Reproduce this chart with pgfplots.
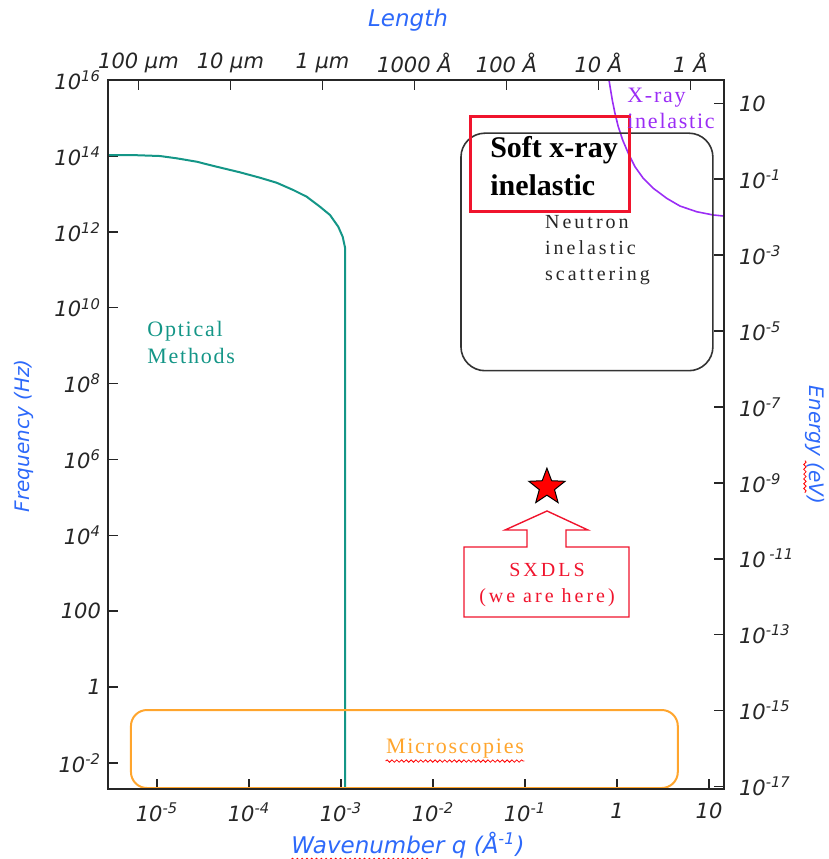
\documentclass[border=0pt]{standalone}
\usepackage{fontspec}
\setmainfont{Liberation Serif}
\setsansfont{DejaVu Sans}
\newfontfamily\annA[LetterSpace=8]{Liberation Serif}
\newfontfamily\annB[LetterSpace=15]{Liberation Serif}
\usepackage{pgfplots}
\pgfplotsset{compat=1.18}
\usetikzlibrary{decorations.pathmorphing,calc}

\definecolor{teal2}{RGB}{20,150,135}
\definecolor{xpurple}{RGB}{155,45,245}
\definecolor{lblue}{RGB}{45,105,250}
\definecolor{orng}{RGB}{255,165,45}
\definecolor{xred}{RGB}{240,20,45}

\pgfdeclareplotmark{fstar}{%
  \pgfpathmoveto{\pgfpointpolar{90}{9.5pt}}%
  \pgfpathlineto{\pgfpointpolar{126}{4pt}}%
  \pgfpathlineto{\pgfpointpolar{162}{9.5pt}}%
  \pgfpathlineto{\pgfpointpolar{198}{4pt}}%
  \pgfpathlineto{\pgfpointpolar{234}{9.5pt}}%
  \pgfpathlineto{\pgfpointpolar{270}{4pt}}%
  \pgfpathlineto{\pgfpointpolar{306}{9.5pt}}%
  \pgfpathlineto{\pgfpointpolar{342}{4pt}}%
  \pgfpathlineto{\pgfpointpolar{18}{9.5pt}}%
  \pgfpathlineto{\pgfpointpolar{54}{4pt}}%
  \pgfpathclose
  \pgfusepathqfillstroke}

\tikzset{wavyline/.style={red,line width=0.4pt,decorate,decoration={snake,amplitude=0.6pt,segment length=2.4pt}}}

\begin{document}
\begin{tikzpicture}
\useasboundingbox (-54pt,-35pt) rectangle (360.5pt,394.5pt);
\begin{axis}[
  at={(0pt,0pt)}, anchor=south west,
  scale only axis, width=308pt, height=354.5pt,
  xmode=log, ymode=log,
  xmin=2.93e-6, xmax=14.55, ymin=2.07e-3, ymax=1e16,
  xminorticks=false, yminorticks=false,
  tick align=inside,
  major tick length=5pt,
  axis line style={line width=1pt, black!85},
  tick style={black!85, line width=0.8pt},
  ticklabel style={font=\sffamily\itshape\fontsize{10.5}{12}\selectfont, text=black!85},
  xticklabel style={yshift=-3.5pt},
  xtick={1e-5,1e-4,1e-3,1e-2,1e-1,1,10},
  xticklabels={10\textsuperscript{-5},10\textsuperscript{-4},10\textsuperscript{-3},10\textsuperscript{-2},10\textsuperscript{-1},1,10},
  ytick={1e-2,1,1e2,1e4,1e6,1e8,1e10,1e12,1e14,1e16},
  yticklabels={10\textsuperscript{-2},1,100,10\textsuperscript{4},10\textsuperscript{6},10\textsuperscript{8},10\textsuperscript{10},10\textsuperscript{12},10\textsuperscript{14},10\textsuperscript{16}},
  xtick pos=left, ytick pos=left,
  clip=false,
]
% Optical methods boundary
\addplot[teal2, line width=1pt, line join=round] coordinates {
  (2.93e-6,1.05e14) (5.52e-6,1.05e14) (1.076e-5,9.93e13) (1.64e-5,8.63e13)
  (2.70e-5,7.03e13) (4.45e-5,5.19e13) (7.98e-5,3.69e13) (1.315e-4,2.66e13)
  (2.0e-4,1.96e13) (3.03e-4,1.26e13) (4.24e-4,8.39e12) (5.90e-4,4.58e12)
  (7.59e-4,2.77e12) (9.33e-4,1.36e12) (1.042e-3,7.41e11) (1.11e-3,3.66e11)
  (1.11e-3,2.07e-3)
};
% X-ray inelastic boundary
\addplot[xpurple, line width=0.8pt, line join=round] coordinates {
  (0.818,1e16) (0.888,2.97e15) (0.950,1.325e15) (1.032,5.87e14) (1.152,2.62e14)
  (1.326,1.17e14) (1.567,5.19e13) (1.93,2.56e13) (2.48,1.40e13) (3.47,7.62e12)
  (4.83,4.78e12) (7.34,3.38e12) (11.13,2.77e12) (14.55,2.6e12)
};
% SXDLS star
\addplot[only marks, mark=fstar, mark options={draw=black, fill=red, line width=0.5pt}] coordinates {(0.173,1.86e5)};

% Neutron box
\draw[black!80, line width=0.8pt, rounded corners=12pt] (rel axis cs:0.573,0.590) rectangle (rel axis cs:0.982,0.925);
% Microscopies box
\draw[orng, line width=1pt, rounded corners=8pt] (rel axis cs:0.0373,0.0014) rectangle (rel axis cs:0.925,0.1114);
% Soft x-ray rectangle
\draw[xred, line width=1.4pt] (rel axis cs:0.588,0.814) rectangle (rel axis cs:0.847,0.949);
% Callout arrow
\draw[xred, line width=0.7pt] (rel axis cs:0.7127,0.3921) -- (rel axis cs:0.7792,0.3653) -- (rel axis cs:0.7435,0.3653) -- (rel axis cs:0.7435,0.3413) -- (rel axis cs:0.8458,0.3413) -- (rel axis cs:0.8458,0.2426) -- (rel axis cs:0.5779,0.2426) -- (rel axis cs:0.5779,0.3413) -- (rel axis cs:0.6802,0.3413) -- (rel axis cs:0.6802,0.3653) -- (rel axis cs:0.6445,0.3653) -- cycle;

% Texts
\node[anchor=west, align=left, inner sep=0pt, text=teal2, font=\annA\fontsize{11}{13.5}\selectfont] at (rel axis cs:0.0633,0.6305) {Optical\\Methods};
\node[anchor=west, align=left, inner sep=0pt, text=black!85, font=\annB\fontsize{10}{13}\selectfont] at (rel axis cs:0.709,0.760) {Neutron\\inelastic\\scattering};
\node[anchor=west, align=left, inner sep=0pt, font=\bfseries\fontsize{15}{19}\selectfont] at (rel axis cs:0.620,0.879) {Soft x-ray\\inelastic};
\node[anchor=west, align=left, inner sep=0pt, text=xpurple, font=\annA\fontsize{11}{13}\selectfont] at (rel axis cs:0.8425,0.9605) {X-ray\\inelastic};
\node[align=center, inner sep=0pt, text=xred, font=\annB\fontsize{10}{13}\selectfont] at (rel axis cs:0.7127,0.2877) {SXDLS\\(we are here)};
\node[inner sep=0pt, text=orng, font=\annA\fontsize{11}{13}\selectfont] (mic) at (rel axis cs:0.5633,0.0564) {Microscopies};
\draw[wavyline] ([yshift=-1pt]mic.south west) -- ([yshift=-1pt]mic.south east);

% Axis titles
\node[text=lblue, font=\sffamily\itshape\fontsize{11.5}{13}\selectfont] at (rel axis cs:0.487,1.0846) {Length};
\node[inner sep=0pt, text=lblue, font=\sffamily\itshape\fontsize{11.5}{13}\selectfont] (wn) at (rel axis cs:0.487,-0.079) {Wavenumber q (Å\textsuperscript{-1})};
\coordinate (wa) at ([yshift=-0.5pt]wn.south west);
\coordinate (wb) at ([yshift=-0.5pt]wn.south east);
\draw[wavyline] (wa) -- ($(wa)!0.6!(wb)$);
\node[text=lblue, rotate=90, font=\sffamily\itshape\fontsize{10}{12}\selectfont] at (rel axis cs:-0.136,0.498) {Frequency (Hz)};
\node[inner sep=0pt, text=lblue, rotate=-90, font=\sffamily\itshape\fontsize{10}{12}\selectfont] (en) at (rel axis cs:1.1477,0.485) {Energy (eV)};
\draw[wavyline] ($(en.south west)!0.63!(en.south east)$) -- ($(en.south west)!0.9!(en.south east)$);
\end{axis}

\begin{axis}[
  at={(0pt,0pt)}, anchor=south west,
  scale only axis, width=308pt, height=354.5pt,
  xmode=log, ymode=log,
  xmin=2.93e-6, xmax=14.55, ymin=2.07e-3, ymax=1e16,
  xminorticks=false, yminorticks=false,
  tick align=inside,
  major tick length=5pt,
  axis line style={line width=1pt, black!85},
  tick style={black!85, line width=0.8pt},
  ticklabel style={font=\sffamily\itshape\fontsize{10.5}{12}\selectfont, text=black!85},
  yticklabel style={xshift=4pt},
  xtick={6.2832e-6,6.2832e-5,6.2832e-4,6.2832e-3,6.2832e-2,0.62832,6.2832},
  xticklabels={100 µm,10 µm,1 µm,1000 Å,100 Å,10 Å,1 Å},
  ytick={2.418e-3,0.2418,24.18,2418,2.418e5,2.418e7,2.418e9,2.418e11,2.418e13,2.418e15},
  yticklabels={10\textsuperscript{-17},10\textsuperscript{-15},10\textsuperscript{-13},10\,\textsuperscript{-11},10\textsuperscript{-9},10\textsuperscript{-7},10\textsuperscript{-5},10\textsuperscript{-3},10\textsuperscript{-1},10},
  xtick pos=right, ytick pos=right,
  xticklabel pos=right, yticklabel pos=right,
]
\end{axis}
\end{tikzpicture}
\end{document}
